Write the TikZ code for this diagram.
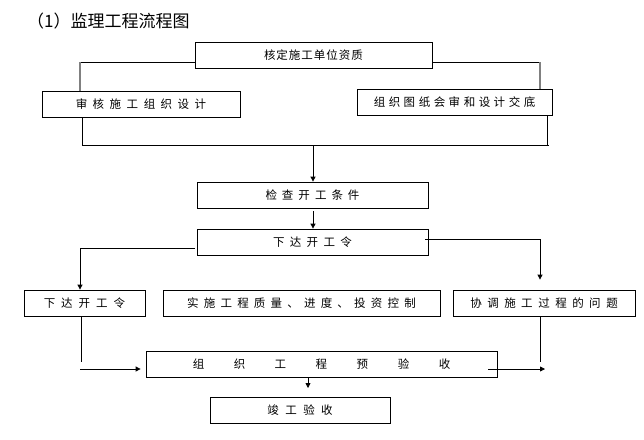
\documentclass[tikz,border=0pt]{standalone}
\usepackage{fontspec}
\newfontfamily\cjk{Noto Sans CJK SC}
\usetikzlibrary{arrows.meta}
\makeatletter
\newcommand\spacedtext[2]{\def\sp@gap{#1}\def\sp@first{1}\@tfor\sp@c:=#2\do{\ifnum\sp@first=1 \def\sp@first{0}\else\hspace{\sp@gap}\fi\sp@c}}
\makeatother
\tikzset{
  box/.style={draw=black, line width=0.8pt, minimum height=26pt, inner sep=0pt, anchor=center, font=\cjk\fontsize{11.5}{13}\selectfont},
  ln/.style={draw=black, line width=0.8pt},
  gln/.style={draw=gray, line width=1.3pt},
  arr/.style={ln, -{Triangle[length=5pt,width=5pt]}}
}
\begin{document}
\begin{tikzpicture}[x=1pt,y=-1pt]
\useasboundingbox (0,0) rectangle (644,439);
\node[anchor=west, font=\cjk\fontsize{17}{19}\selectfont, inner sep=0pt] (title) at (27,21) {（1）监理工程流程图};
\node[box, minimum width=237pt] (b1) at (313.5,55) {\spacedtext{1pt}{核定施工单位资质}};
\node[box, minimum width=198pt] (b2) at (141,104) {\spacedtext{5.5pt}{审核施工组织设计}};
\node[box, minimum width=195pt] (b3) at (454.5,102) {\spacedtext{3.5pt}{组织图纸会审和设计交底}};
\node[box, minimum width=231pt] (b4) at (312.5,195) {\spacedtext{5pt}{检查开工条件}};
\node[box, minimum width=231pt] (b5) at (312.5,242) {\spacedtext{5.3pt}{下达开工令}};
\node[box, minimum width=121pt] (b6) at (84.5,303) {\spacedtext{6pt}{下达开工令}};
\node[box, minimum width=277pt] (b7) at (301.5,303) {\spacedtext{5.2pt}{实施工程质量、进度、投资控制}};
\node[box, minimum width=182pt] (b8) at (544,303) {\spacedtext{5.5pt}{协调施工过程的问题}};
\node[box, minimum width=351pt] (b9) at (321.5,364) {\spacedtext{29.5pt}{组织工程预验收}};
\node[box, minimum width=180pt] (b10) at (300,410) {\spacedtext{6.5pt}{竣工验收}};
% top branches
\coordinate (l1) at (80,62);
\coordinate (r1) at (540,62);
\draw[ln] (b1.west |- l1) -- (l1);
\draw[gln] (l1) -- (l1 |- b2.north);
\draw[ln] (b1.east |- r1) -- (r1);
\draw[gln] (r1) -- (r1 |- b3.north);
% collector
\coordinate (c1) at (82,145);
\coordinate (c2) at (547,145);
\coordinate (c3) at (313,145);
\draw[ln] (c1 |- b2.south) -- (c1) -- ([xshift=2pt]c2);
\draw[ln] (c2 |- b3.south) -- (c2);
\draw[arr] (c3) -- (c3 |- b4.north);
\draw[arr, shorten <=3pt] (c3 |- b4.south) -- (c3 |- b5.north);
% split from b5
\coordinate (d1) at (80,248);
\coordinate (d2) at (540,239);
\draw[arr] ([xshift=-2pt]b5.west |- d1) -- (d1) -- (d1 |- b6.north);
\draw[arr, shorten >=10pt] ([xshift=-3pt]b5.east |- d2) -- (d2) -- (d2 |- b8.north);
% to b9
\coordinate (e1) at (81,362);
\coordinate (e2) at (80,369);
\coordinate (e3) at (540,362);
\coordinate (e4) at (545,369);
\draw[ln] (e1 |- b6.south) -- (e1);
\draw[arr, shorten >=5pt] (e2) -- (e2 -| b9.west);
\draw[ln] (e3 |- b8.south) -- (e3);
\draw[arr] ([xshift=-9pt]b9.east |- e4) -- (e4);
% to b10
\coordinate (f) at (308,388);
\draw[arr] (f |- b9.south) -- (f);
\end{tikzpicture}
\end{document}
